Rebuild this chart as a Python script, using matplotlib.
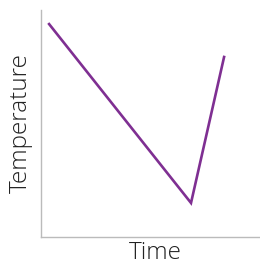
import matplotlib
matplotlib.use("Agg")
import matplotlib.pyplot as plt

time = [0.37, 6.85, 8.36]
temperature = [9.38, 1.50, 7.93]
x_label = "Time"
y_label = "Temperature"

W, H = 260, 264
fig = plt.figure(figsize=(W / 100, H / 100), dpi=100)
ax = fig.add_axes([41 / W, (H - 237) / H, (W - 41) / W, (237 - 10) / H])
ax.plot(time, temperature, color="#7F2F92", linewidth=1.9, solid_joinstyle="miter")
ax.set_xlim(0, 10)
ax.set_ylim(0, 10)
for s in ["top", "right"]:
    ax.spines[s].set_visible(False)
for s in ["left", "bottom"]:
    ax.spines[s].set_color("#BBBBBB")
    ax.spines[s].set_linewidth(1.0)
ax.set_xticks([])
ax.set_yticks([])
fig.text(155 / W, 1 - 253 / H, x_label, fontsize=17.5, family="Open Sans",
         fontweight="light", color="#222222", ha="center", va="center")
fig.text(21 / W, 1 - 123.5 / H, y_label, fontsize=17.5, family="Open Sans",
         fontweight="light", color="#222222", ha="center", va="center", rotation=90)
fig.savefig("out.png", dpi=100)
